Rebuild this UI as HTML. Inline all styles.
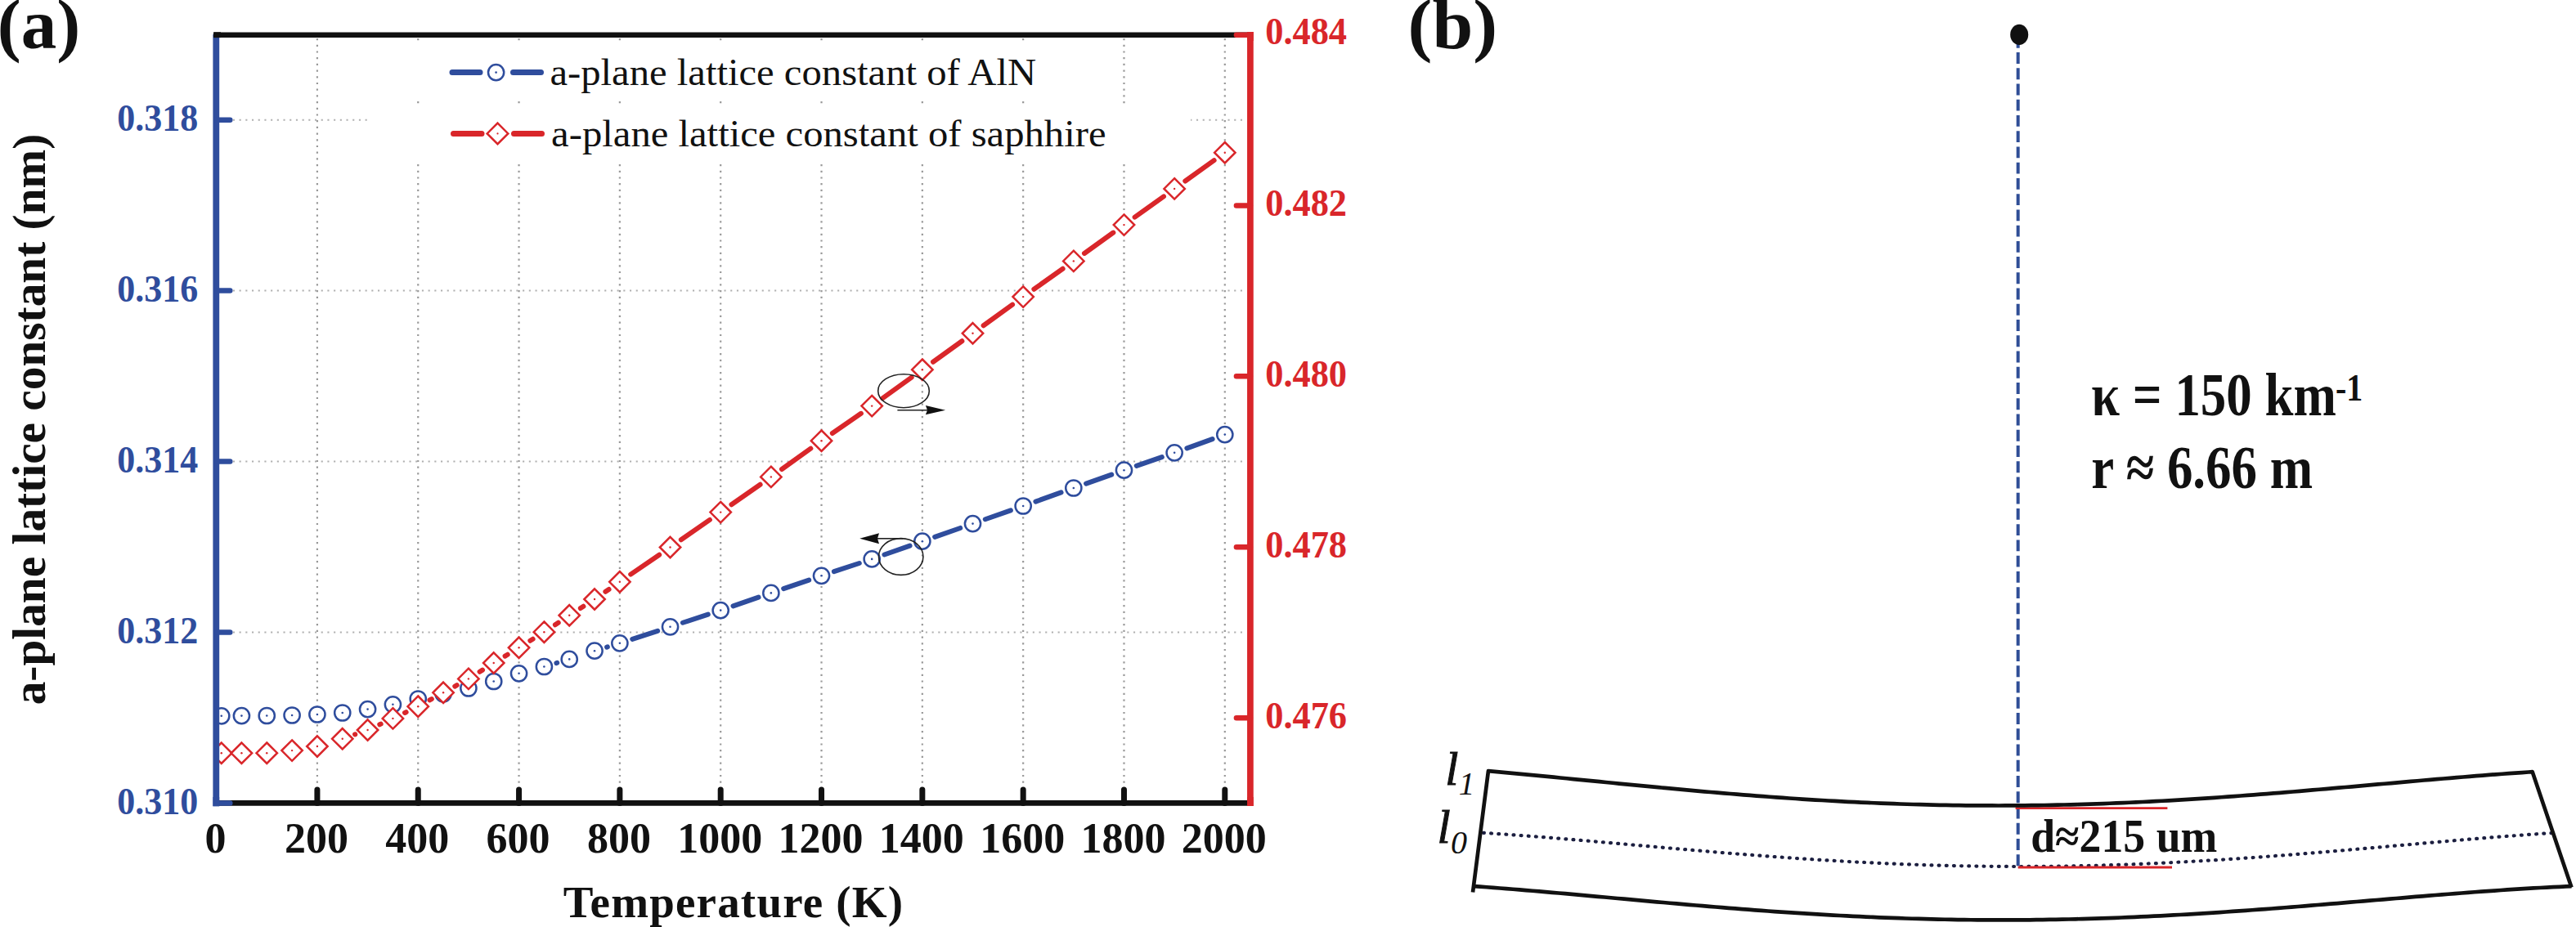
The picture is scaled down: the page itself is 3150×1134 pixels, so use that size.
<!DOCTYPE html>
<html><head><meta charset="utf-8"><title>Figure</title>
<style>html,body{margin:0;padding:0;background:#fff;width:3150px;height:1134px;overflow:hidden}
svg{display:block}
text{font-family:'Liberation Serif', serif}</style></head>
<body><svg width="3150" height="1134" viewBox="0 0 3150 1134">
<rect width="3150" height="1134" fill="#fff"/>
<path d="M387.92 47V978M511.24 47V978M634.56 47V978M757.88 47V978M881.2 47V978M1004.52 47V978M1127.84 47V978M1251.16 47V978M1374.48 47V978M1497.8 47V978" stroke="#999" stroke-width="2.2" stroke-dasharray="2.2 5.5" fill="none"/>
<path d="M269.5 773.4H1524M269.5 564.5H1524M269.5 355.6H1524M269.5 146.7H1524" stroke="#b0b0b0" stroke-width="2" stroke-dasharray="2.1 5.6" fill="none"/>
<rect x="449" y="52" width="850" height="67" fill="#fff"/>
<rect x="449" y="130" width="1007" height="66" fill="#fff"/>
<path d="M553 88.6H587M627.5 88.6H661.5" stroke="#2f4d9d" stroke-width="7" stroke-linecap="round"/>
<circle cx="606.6" cy="88.6" r="9.6" fill="#fff" stroke="#2f4d9d" stroke-width="2.5"/>
<circle cx="606.6" cy="88.6" r="1.3" fill="#2f4d9d"/>
<path d="M554.5 163.4H589M628.5 163.4H662.5" stroke="#d9262a" stroke-width="7" stroke-linecap="round"/>
<path d="M608.5 150.6L621.3 163.4L608.5 176.2L595.7 163.4Z" fill="#fff" stroke="#d9262a" stroke-width="2.5"/>
<circle cx="608.5" cy="163.4" r="1.1" fill="#d9262a"/>
<text transform="translate(672.4 104) scale(1.047 1)" font-size="46.5" fill="#111">a-plane lattice constant of AlN</text>
<text transform="translate(674.1 178.8) scale(1.047 1)" font-size="46.5" fill="#111">a-plane lattice constant of saphhire</text>
<defs><clipPath id="pc"><rect x="264.3" y="42.7" width="1264.6" height="939.7"/></clipPath></defs>
<g clip-path="url(#pc)">
<path d="M680.42 811.06L681.19 810.84M742.08 791.62L742.85 791.38M773.29 781.8L804.13 771.8M834.93 761.76L865.81 751.64M896.52 741.33L927.54 730.67M958.19 720.15L989.19 709.55M1019.9 699.21L1050.8 688.99M1081.46 678.52L1112.56 667.58M1143.13 656.84L1174.21 645.96M1204.79 635.24L1235.87 624.36M1266.42 613.56L1297.56 602.44M1328.09 591.6L1359.21 580.6M1389.78 569.89L1420.84 559.11M1451.38 548.31L1482.56 537.09" stroke="#2f4d9d" stroke-width="6" stroke-linecap="round" fill="none"/>
<circle cx="270.77" cy="875.8" r="9.6" fill="#fff" stroke="#2f4d9d" stroke-width="2.5"/>
<circle cx="270.77" cy="875.8" r="1.3" fill="#2f4d9d"/>
<circle cx="295.43" cy="875.6" r="9.6" fill="#fff" stroke="#2f4d9d" stroke-width="2.5"/>
<circle cx="295.43" cy="875.6" r="1.3" fill="#2f4d9d"/>
<circle cx="326.26" cy="875.5" r="9.6" fill="#fff" stroke="#2f4d9d" stroke-width="2.5"/>
<circle cx="326.26" cy="875.5" r="1.3" fill="#2f4d9d"/>
<circle cx="357.09" cy="875" r="9.6" fill="#fff" stroke="#2f4d9d" stroke-width="2.5"/>
<circle cx="357.09" cy="875" r="1.3" fill="#2f4d9d"/>
<circle cx="387.92" cy="874" r="9.6" fill="#fff" stroke="#2f4d9d" stroke-width="2.5"/>
<circle cx="387.92" cy="874" r="1.3" fill="#2f4d9d"/>
<circle cx="418.75" cy="872" r="9.6" fill="#fff" stroke="#2f4d9d" stroke-width="2.5"/>
<circle cx="418.75" cy="872" r="1.3" fill="#2f4d9d"/>
<circle cx="449.58" cy="867.6" r="9.6" fill="#fff" stroke="#2f4d9d" stroke-width="2.5"/>
<circle cx="449.58" cy="867.6" r="1.3" fill="#2f4d9d"/>
<circle cx="480.41" cy="861.8" r="9.6" fill="#fff" stroke="#2f4d9d" stroke-width="2.5"/>
<circle cx="480.41" cy="861.8" r="1.3" fill="#2f4d9d"/>
<circle cx="511.24" cy="855" r="9.6" fill="#fff" stroke="#2f4d9d" stroke-width="2.5"/>
<circle cx="511.24" cy="855" r="1.3" fill="#2f4d9d"/>
<circle cx="542.07" cy="848.8" r="9.6" fill="#fff" stroke="#2f4d9d" stroke-width="2.5"/>
<circle cx="542.07" cy="848.8" r="1.3" fill="#2f4d9d"/>
<circle cx="572.9" cy="842" r="9.6" fill="#fff" stroke="#2f4d9d" stroke-width="2.5"/>
<circle cx="572.9" cy="842" r="1.3" fill="#2f4d9d"/>
<circle cx="603.73" cy="833.5" r="9.6" fill="#fff" stroke="#2f4d9d" stroke-width="2.5"/>
<circle cx="603.73" cy="833.5" r="1.3" fill="#2f4d9d"/>
<circle cx="634.56" cy="823.8" r="9.6" fill="#fff" stroke="#2f4d9d" stroke-width="2.5"/>
<circle cx="634.56" cy="823.8" r="1.3" fill="#2f4d9d"/>
<circle cx="665.39" cy="815.5" r="9.6" fill="#fff" stroke="#2f4d9d" stroke-width="2.5"/>
<circle cx="665.39" cy="815.5" r="1.3" fill="#2f4d9d"/>
<circle cx="696.22" cy="806.4" r="9.6" fill="#fff" stroke="#2f4d9d" stroke-width="2.5"/>
<circle cx="696.22" cy="806.4" r="1.3" fill="#2f4d9d"/>
<circle cx="727.05" cy="796.2" r="9.6" fill="#fff" stroke="#2f4d9d" stroke-width="2.5"/>
<circle cx="727.05" cy="796.2" r="1.3" fill="#2f4d9d"/>
<circle cx="757.88" cy="786.8" r="9.6" fill="#fff" stroke="#2f4d9d" stroke-width="2.5"/>
<circle cx="757.88" cy="786.8" r="1.3" fill="#2f4d9d"/>
<circle cx="819.54" cy="766.8" r="9.6" fill="#fff" stroke="#2f4d9d" stroke-width="2.5"/>
<circle cx="819.54" cy="766.8" r="1.3" fill="#2f4d9d"/>
<circle cx="881.2" cy="746.6" r="9.6" fill="#fff" stroke="#2f4d9d" stroke-width="2.5"/>
<circle cx="881.2" cy="746.6" r="1.3" fill="#2f4d9d"/>
<circle cx="942.86" cy="725.4" r="9.6" fill="#fff" stroke="#2f4d9d" stroke-width="2.5"/>
<circle cx="942.86" cy="725.4" r="1.3" fill="#2f4d9d"/>
<circle cx="1004.52" cy="704.3" r="9.6" fill="#fff" stroke="#2f4d9d" stroke-width="2.5"/>
<circle cx="1004.52" cy="704.3" r="1.3" fill="#2f4d9d"/>
<circle cx="1066.18" cy="683.9" r="9.6" fill="#fff" stroke="#2f4d9d" stroke-width="2.5"/>
<circle cx="1066.18" cy="683.9" r="1.3" fill="#2f4d9d"/>
<circle cx="1127.84" cy="662.2" r="9.6" fill="#fff" stroke="#2f4d9d" stroke-width="2.5"/>
<circle cx="1127.84" cy="662.2" r="1.3" fill="#2f4d9d"/>
<circle cx="1189.5" cy="640.6" r="9.6" fill="#fff" stroke="#2f4d9d" stroke-width="2.5"/>
<circle cx="1189.5" cy="640.6" r="1.3" fill="#2f4d9d"/>
<circle cx="1251.16" cy="619" r="9.6" fill="#fff" stroke="#2f4d9d" stroke-width="2.5"/>
<circle cx="1251.16" cy="619" r="1.3" fill="#2f4d9d"/>
<circle cx="1312.82" cy="597" r="9.6" fill="#fff" stroke="#2f4d9d" stroke-width="2.5"/>
<circle cx="1312.82" cy="597" r="1.3" fill="#2f4d9d"/>
<circle cx="1374.48" cy="575.2" r="9.6" fill="#fff" stroke="#2f4d9d" stroke-width="2.5"/>
<circle cx="1374.48" cy="575.2" r="1.3" fill="#2f4d9d"/>
<circle cx="1436.14" cy="553.8" r="9.6" fill="#fff" stroke="#2f4d9d" stroke-width="2.5"/>
<circle cx="1436.14" cy="553.8" r="1.3" fill="#2f4d9d"/>
<circle cx="1497.8" cy="531.6" r="9.6" fill="#fff" stroke="#2f4d9d" stroke-width="2.5"/>
<circle cx="1497.8" cy="531.6" r="1.3" fill="#2f4d9d"/>
<path d="M434.04 898.44L434.29 898.36M464.31 886.26L465.68 885.64M495.03 871.93L496.62 871.17M525.45 856.41L527.86 855.09M556.28 839.51L558.69 838.19M586.61 821.77L590.02 819.63M617.58 802.6L620.71 800.7M648.33 783.77L651.62 781.73M678.9 764.26L682.71 761.74M709.85 744.05L713.42 741.75M740.4 723.82L744.53 720.98M771.24 702.64L806.18 678.66M832.84 660.25L867.9 635.85M894.47 617.3L929.59 592.7M956.03 573.96L991.35 548.64M1017.85 529.99L1052.85 505.81M1079.33 487.13L1114.69 461.67M1140.99 442.73L1176.35 417.27M1202.62 398.29L1238.04 372.61M1264.38 353.73L1299.6 328.77M1325.98 309.95L1361.32 284.55M1387.65 265.66L1422.97 240.34M1449.31 221.46L1484.63 196.14" stroke="#d9262a" stroke-width="6" stroke-linecap="round" fill="none"/>
<path d="M270.77 908.6L283.47 921.3L270.77 934L258.07 921.3Z" fill="#fff" stroke="#d9262a" stroke-width="2.5" stroke-linejoin="miter"/>
<circle cx="270.77" cy="921.3" r="1.2" fill="#d9262a"/>
<path d="M295.43 908.6L308.13 921.3L295.43 934L282.73 921.3Z" fill="#fff" stroke="#d9262a" stroke-width="2.5" stroke-linejoin="miter"/>
<circle cx="295.43" cy="921.3" r="1.2" fill="#d9262a"/>
<path d="M326.26 908.5L338.96 921.2L326.26 933.9L313.56 921.2Z" fill="#fff" stroke="#d9262a" stroke-width="2.5" stroke-linejoin="miter"/>
<circle cx="326.26" cy="921.2" r="1.2" fill="#d9262a"/>
<path d="M357.09 905.4L369.79 918.1L357.09 930.8L344.39 918.1Z" fill="#fff" stroke="#d9262a" stroke-width="2.5" stroke-linejoin="miter"/>
<circle cx="357.09" cy="918.1" r="1.2" fill="#d9262a"/>
<path d="M387.92 900.3L400.62 913L387.92 925.7L375.22 913Z" fill="#fff" stroke="#d9262a" stroke-width="2.5" stroke-linejoin="miter"/>
<circle cx="387.92" cy="913" r="1.2" fill="#d9262a"/>
<path d="M418.75 891.1L431.45 903.8L418.75 916.5L406.05 903.8Z" fill="#fff" stroke="#d9262a" stroke-width="2.5" stroke-linejoin="miter"/>
<circle cx="418.75" cy="903.8" r="1.2" fill="#d9262a"/>
<path d="M449.58 880.3L462.28 893L449.58 905.7L436.88 893Z" fill="#fff" stroke="#d9262a" stroke-width="2.5" stroke-linejoin="miter"/>
<circle cx="449.58" cy="893" r="1.2" fill="#d9262a"/>
<path d="M480.41 866.2L493.11 878.9L480.41 891.6L467.71 878.9Z" fill="#fff" stroke="#d9262a" stroke-width="2.5" stroke-linejoin="miter"/>
<circle cx="480.41" cy="878.9" r="1.2" fill="#d9262a"/>
<path d="M511.24 851.5L523.94 864.2L511.24 876.9L498.54 864.2Z" fill="#fff" stroke="#d9262a" stroke-width="2.5" stroke-linejoin="miter"/>
<circle cx="511.24" cy="864.2" r="1.2" fill="#d9262a"/>
<path d="M542.07 834.6L554.77 847.3L542.07 860L529.37 847.3Z" fill="#fff" stroke="#d9262a" stroke-width="2.5" stroke-linejoin="miter"/>
<circle cx="542.07" cy="847.3" r="1.2" fill="#d9262a"/>
<path d="M572.9 817.7L585.6 830.4L572.9 843.1L560.2 830.4Z" fill="#fff" stroke="#d9262a" stroke-width="2.5" stroke-linejoin="miter"/>
<circle cx="572.9" cy="830.4" r="1.2" fill="#d9262a"/>
<path d="M603.73 798.3L616.43 811L603.73 823.7L591.03 811Z" fill="#fff" stroke="#d9262a" stroke-width="2.5" stroke-linejoin="miter"/>
<circle cx="603.73" cy="811" r="1.2" fill="#d9262a"/>
<path d="M634.56 779.6L647.26 792.3L634.56 805L621.86 792.3Z" fill="#fff" stroke="#d9262a" stroke-width="2.5" stroke-linejoin="miter"/>
<circle cx="634.56" cy="792.3" r="1.2" fill="#d9262a"/>
<path d="M665.39 760.5L678.09 773.2L665.39 785.9L652.69 773.2Z" fill="#fff" stroke="#d9262a" stroke-width="2.5" stroke-linejoin="miter"/>
<circle cx="665.39" cy="773.2" r="1.2" fill="#d9262a"/>
<path d="M696.22 740.1L708.92 752.8L696.22 765.5L683.52 752.8Z" fill="#fff" stroke="#d9262a" stroke-width="2.5" stroke-linejoin="miter"/>
<circle cx="696.22" cy="752.8" r="1.2" fill="#d9262a"/>
<path d="M727.05 720.3L739.75 733L727.05 745.7L714.35 733Z" fill="#fff" stroke="#d9262a" stroke-width="2.5" stroke-linejoin="miter"/>
<circle cx="727.05" cy="733" r="1.2" fill="#d9262a"/>
<path d="M757.88 699.1L770.58 711.8L757.88 724.5L745.18 711.8Z" fill="#fff" stroke="#d9262a" stroke-width="2.5" stroke-linejoin="miter"/>
<circle cx="757.88" cy="711.8" r="1.2" fill="#d9262a"/>
<path d="M819.54 656.8L832.24 669.5L819.54 682.2L806.84 669.5Z" fill="#fff" stroke="#d9262a" stroke-width="2.5" stroke-linejoin="miter"/>
<circle cx="819.54" cy="669.5" r="1.2" fill="#d9262a"/>
<path d="M881.2 613.9L893.9 626.6L881.2 639.3L868.5 626.6Z" fill="#fff" stroke="#d9262a" stroke-width="2.5" stroke-linejoin="miter"/>
<circle cx="881.2" cy="626.6" r="1.2" fill="#d9262a"/>
<path d="M942.86 570.7L955.56 583.4L942.86 596.1L930.16 583.4Z" fill="#fff" stroke="#d9262a" stroke-width="2.5" stroke-linejoin="miter"/>
<circle cx="942.86" cy="583.4" r="1.2" fill="#d9262a"/>
<path d="M1004.52 526.5L1017.22 539.2L1004.52 551.9L991.82 539.2Z" fill="#fff" stroke="#d9262a" stroke-width="2.5" stroke-linejoin="miter"/>
<circle cx="1004.52" cy="539.2" r="1.2" fill="#d9262a"/>
<path d="M1066.18 483.9L1078.88 496.6L1066.18 509.3L1053.48 496.6Z" fill="#fff" stroke="#d9262a" stroke-width="2.5" stroke-linejoin="miter"/>
<circle cx="1066.18" cy="496.6" r="1.2" fill="#d9262a"/>
<path d="M1127.84 439.5L1140.54 452.2L1127.84 464.9L1115.14 452.2Z" fill="#fff" stroke="#d9262a" stroke-width="2.5" stroke-linejoin="miter"/>
<circle cx="1127.84" cy="452.2" r="1.2" fill="#d9262a"/>
<path d="M1189.5 395.1L1202.2 407.8L1189.5 420.5L1176.8 407.8Z" fill="#fff" stroke="#d9262a" stroke-width="2.5" stroke-linejoin="miter"/>
<circle cx="1189.5" cy="407.8" r="1.2" fill="#d9262a"/>
<path d="M1251.16 350.4L1263.86 363.1L1251.16 375.8L1238.46 363.1Z" fill="#fff" stroke="#d9262a" stroke-width="2.5" stroke-linejoin="miter"/>
<circle cx="1251.16" cy="363.1" r="1.2" fill="#d9262a"/>
<path d="M1312.82 306.7L1325.52 319.4L1312.82 332.1L1300.12 319.4Z" fill="#fff" stroke="#d9262a" stroke-width="2.5" stroke-linejoin="miter"/>
<circle cx="1312.82" cy="319.4" r="1.2" fill="#d9262a"/>
<path d="M1374.48 262.4L1387.18 275.1L1374.48 287.8L1361.78 275.1Z" fill="#fff" stroke="#d9262a" stroke-width="2.5" stroke-linejoin="miter"/>
<circle cx="1374.48" cy="275.1" r="1.2" fill="#d9262a"/>
<path d="M1436.14 218.2L1448.84 230.9L1436.14 243.6L1423.44 230.9Z" fill="#fff" stroke="#d9262a" stroke-width="2.5" stroke-linejoin="miter"/>
<circle cx="1436.14" cy="230.9" r="1.2" fill="#d9262a"/>
<path d="M1497.8 174L1510.5 186.7L1497.8 199.4L1485.1 186.7Z" fill="#fff" stroke="#d9262a" stroke-width="2.5" stroke-linejoin="miter"/>
<circle cx="1497.8" cy="186.7" r="1.2" fill="#d9262a"/>
</g>
<ellipse cx="1101.7" cy="681" rx="27.2" ry="22.4" fill="none" stroke="#222" stroke-width="1.6"/>
<path d="M1104 658.8H1072" stroke="#222" stroke-width="1.6"/>
<path d="M1051.2 658.8L1075 652.3L1073 658.8L1075 665.3Z" fill="#111"/>
<ellipse cx="1105" cy="478.2" rx="31.3" ry="20.5" fill="none" stroke="#222" stroke-width="1.6"/>
<path d="M1097.4 501.7H1135" stroke="#222" stroke-width="1.6"/>
<path d="M1156.1 501.7L1131.9 496.1L1134 501.7L1131.9 507.3Z" fill="#111"/>
<path d="M264.3 42V986.2" stroke="#2f4d9d" stroke-width="7.8"/>
<path d="M1528.9 39V986" stroke="#d9262a" stroke-width="7.7"/>
<path d="M261 42.7H1526" stroke="#111" stroke-width="6.6"/>
<path d="M261 982.4H1526" stroke="#111" stroke-width="6.8"/>
<path d="M387.92 982.4V966M511.24 982.4V966M634.56 982.4V966M757.88 982.4V966M881.2 982.4V966M1004.52 982.4V966M1127.84 982.4V966M1251.16 982.4V966M1374.48 982.4V966M1497.8 982.4V966" stroke="#111" stroke-width="7" stroke-linecap="round"/>
<path d="M264.3 982.4H281.3M264.3 773.4H281.3M264.3 564.5H281.3M264.3 355.6H281.3M264.3 146.7H281.3" stroke="#2f4d9d" stroke-width="6.5" stroke-linecap="round"/>
<path d="M1528.9 878.3H1511.9M1528.9 669.2H1511.9M1528.9 460.3H1511.9M1528.9 251.6H1511.9M1528.9 42.7H1511.9" stroke="#d9262a" stroke-width="6.5" stroke-linecap="round"/>
<path d="M264.3 975V986.2" stroke="#2f4d9d" stroke-width="7.8"/>
<path d="M1528.9 39V50M1528.9 975V986" stroke="#d9262a" stroke-width="7.7"/>
<path d="M261.5 42.7H270" stroke="#111" stroke-width="6.8"/>
<text transform="translate(143.2 995.7) scale(0.957 1)" font-size="46" font-weight="bold" fill="#2f4d9d">0.310</text>
<text transform="translate(143.2 786.7) scale(0.957 1)" font-size="46" font-weight="bold" fill="#2f4d9d">0.312</text>
<text transform="translate(143.2 577.8) scale(0.957 1)" font-size="46" font-weight="bold" fill="#2f4d9d">0.314</text>
<text transform="translate(143.2 368.9) scale(0.957 1)" font-size="46" font-weight="bold" fill="#2f4d9d">0.316</text>
<text transform="translate(143.2 160) scale(0.957 1)" font-size="46" font-weight="bold" fill="#2f4d9d">0.318</text>
<text transform="translate(1547.2 891.1) scale(0.965 1)" font-size="46" font-weight="bold" fill="#d9262a">0.476</text>
<text transform="translate(1547.2 682) scale(0.965 1)" font-size="46" font-weight="bold" fill="#d9262a">0.478</text>
<text transform="translate(1547.2 473.1) scale(0.965 1)" font-size="46" font-weight="bold" fill="#d9262a">0.480</text>
<text transform="translate(1547.2 264.4) scale(0.965 1)" font-size="46" font-weight="bold" fill="#d9262a">0.482</text>
<text transform="translate(1547.2 53.5) scale(0.965 1)" font-size="46" font-weight="bold" fill="#d9262a">0.484</text>
<text x="263.6" y="1042.5" font-size="52" font-weight="bold" fill="#111" text-anchor="middle">0</text>
<text x="386.92" y="1042.5" font-size="52" font-weight="bold" fill="#111" text-anchor="middle">200</text>
<text x="510.24" y="1042.5" font-size="52" font-weight="bold" fill="#111" text-anchor="middle">400</text>
<text x="633.56" y="1042.5" font-size="52" font-weight="bold" fill="#111" text-anchor="middle">600</text>
<text x="756.88" y="1042.5" font-size="52" font-weight="bold" fill="#111" text-anchor="middle">800</text>
<text x="880.2" y="1042.5" font-size="52" font-weight="bold" fill="#111" text-anchor="middle">1000</text>
<text x="1003.52" y="1042.5" font-size="52" font-weight="bold" fill="#111" text-anchor="middle">1200</text>
<text x="1126.84" y="1042.5" font-size="52" font-weight="bold" fill="#111" text-anchor="middle">1400</text>
<text x="1250.16" y="1042.5" font-size="52" font-weight="bold" fill="#111" text-anchor="middle">1600</text>
<text x="1373.48" y="1042.5" font-size="52" font-weight="bold" fill="#111" text-anchor="middle">1800</text>
<text x="1496.8" y="1042.5" font-size="52" font-weight="bold" fill="#111" text-anchor="middle">2000</text>
<text x="688.7" y="1121.5" font-size="55" font-weight="bold" fill="#111" letter-spacing="1.2">Temperature (K)</text>
<text transform="translate(55 862.3) rotate(-90)" x="0" y="0" font-size="57.3" font-weight="bold" fill="#111">a-plane lattice constant (nm)</text>
<text x="-3.2" y="59" font-size="87" font-weight="bold" fill="#111">(a)</text>
<text transform="translate(1721.6 59) scale(1.03 1)" font-size="87" font-weight="bold" fill="#111">(b)</text>
<path d="M2467.7 44.76V1059.3" stroke="#2f4e96" stroke-width="4" stroke-dasharray="13.9 5.34"/>
<path d="M1814 1018.85L1822 1019.37L1830 1019.9L1838 1020.45L1846 1021.02L1854 1021.6L1862 1022.19L1870 1022.8L1878 1023.42L1886 1024.05L1894 1024.69L1902 1025.34L1910 1026L1918 1026.66L1926 1027.34L1934 1028.02L1942 1028.71L1950 1029.4L1958 1030.1L1966 1030.8L1974 1031.5L1982 1032.21L1990 1032.92L1998 1033.63L2006 1034.34L2014 1035.05L2022 1035.76L2030 1036.46L2038 1037.17L2046 1037.87L2054 1038.57L2062 1039.27L2070 1039.96L2078 1040.65L2086 1041.33L2094 1042.01L2102 1042.68L2110 1043.34L2118 1044L2126 1044.64L2134 1045.28L2142 1045.91L2150 1046.54L2158 1047.15L2166 1047.75L2174 1048.34L2182 1048.92L2190 1049.49L2198 1050.05L2206 1050.59L2214 1051.12L2222 1051.64L2230 1052.15L2238 1052.64L2246 1053.12L2254 1053.59L2262 1054.04L2270 1054.48L2278 1054.9L2286 1055.3L2294 1055.7L2302 1056.07L2310 1056.43L2318 1056.77L2326 1057.1L2334 1057.41L2342 1057.7L2350 1057.98L2358 1058.24L2366 1058.48L2374 1058.7L2382 1058.91L2390 1059.1L2398 1059.27L2406 1059.42L2414 1059.56L2422 1059.67L2430 1059.77L2438 1059.85L2446 1059.92L2454 1059.96L2462 1059.99L2470 1060L2478 1059.98L2486 1059.96L2494 1059.91L2502 1059.84L2510 1059.76L2518 1059.66L2526 1059.54L2534 1059.4L2542 1059.24L2550 1059.07L2558 1058.88L2566 1058.67L2574 1058.44L2582 1058.19L2590 1057.93L2598 1057.65L2606 1057.36L2614 1057.04L2622 1056.71L2630 1056.37L2638 1056.01L2646 1055.63L2654 1055.24L2662 1054.83L2670 1054.4L2678 1053.96L2686 1053.51L2694 1053.04L2702 1052.56L2710 1052.06L2718 1051.55L2726 1051.03L2734 1050.49L2742 1049.95L2750 1049.39L2758 1048.81L2766 1048.23L2774 1047.64L2782 1047.03L2790 1046.42L2798 1045.79L2806 1045.16L2814 1044.52L2822 1043.87L2830 1043.21L2838 1042.54L2846 1041.87L2854 1041.19L2862 1040.5L2870 1039.81L2878 1039.12L2886 1038.42L2894 1037.72L2902 1037.01L2910 1036.3L2918 1035.59L2926 1034.88L2934 1034.17L2942 1033.45L2950 1032.74L2958 1032.03L2966 1031.32L2974 1030.62L2982 1029.91L2990 1029.21L2998 1028.52L3006 1027.83L3014 1027.14L3022 1026.47L3030 1025.8L3038 1025.13L3046 1024.48L3054 1023.84L3062 1023.21L3070 1022.59L3078 1021.98L3086 1021.38L3094 1020.8L3102 1020.23L3110 1019.68L3118 1019.15L3121 1018.95" fill="none" stroke="#1c1f40" stroke-width="4.2" stroke-linecap="round" stroke-dasharray="0.9 8.25"/>
<path d="M2464.6 988.7H2650.4M2467.7 1061H2656" stroke="#d9262a" stroke-width="2.8"/>
<path d="M1801 1091.5L1819.9 943.6L1819.9 943.15L1827.9 943.87L1835.9 944.6L1843.9 945.33L1851.9 946.08L1859.9 946.83L1867.9 947.59L1875.9 948.36L1883.9 949.13L1891.9 949.91L1899.9 950.69L1907.9 951.47L1915.9 952.26L1923.9 953.04L1931.9 953.83L1939.9 954.62L1947.9 955.41L1955.9 956.2L1963.9 956.99L1971.9 957.78L1979.9 958.56L1987.9 959.34L1995.9 960.12L2003.9 960.89L2011.9 961.66L2019.9 962.43L2027.9 963.19L2035.9 963.94L2043.9 964.68L2051.9 965.42L2059.9 966.15L2067.9 966.88L2075.9 967.59L2083.9 968.3L2091.9 968.99L2099.9 969.68L2107.9 970.36L2115.9 971.02L2123.9 971.68L2131.9 972.32L2139.9 972.95L2147.9 973.57L2155.9 974.18L2163.9 974.77L2171.9 975.35L2179.9 975.92L2187.9 976.47L2195.9 977.01L2203.9 977.53L2211.9 978.04L2219.9 978.54L2227.9 979.02L2235.9 979.48L2243.9 979.93L2251.9 980.36L2259.9 980.78L2267.9 981.17L2275.9 981.56L2283.9 981.92L2291.9 982.27L2299.9 982.6L2307.9 982.92L2315.9 983.21L2323.9 983.49L2331.9 983.75L2339.9 983.99L2347.9 984.22L2355.9 984.42L2363.9 984.61L2371.9 984.78L2379.9 984.93L2387.9 985.07L2395.9 985.18L2403.9 985.28L2411.9 985.35L2419.9 985.41L2427.9 985.45L2435.9 985.47L2443.9 985.48L2451.9 985.46L2459.9 985.43L2467.9 985.37L2475.9 985.3L2483.9 985.21L2491.9 985.1L2499.9 984.98L2507.9 984.83L2515.9 984.67L2523.9 984.49L2531.9 984.29L2539.9 984.07L2547.9 983.84L2555.9 983.59L2563.9 983.32L2571.9 983.04L2579.9 982.73L2587.9 982.41L2595.9 982.08L2603.9 981.73L2611.9 981.36L2619.9 980.98L2627.9 980.58L2635.9 980.16L2643.9 979.73L2651.9 979.29L2659.9 978.83L2667.9 978.36L2675.9 977.87L2683.9 977.37L2691.9 976.85L2699.9 976.33L2707.9 975.79L2715.9 975.24L2723.9 974.67L2731.9 974.1L2739.9 973.51L2747.9 972.92L2755.9 972.31L2763.9 971.69L2771.9 971.07L2779.9 970.43L2787.9 969.79L2795.9 969.14L2803.9 968.48L2811.9 967.81L2819.9 967.14L2827.9 966.46L2835.9 965.78L2843.9 965.09L2851.9 964.4L2859.9 963.7L2867.9 963L2875.9 962.29L2883.9 961.58L2891.9 960.88L2899.9 960.17L2907.9 959.46L2915.9 958.75L2923.9 958.04L2931.9 957.33L2939.9 956.62L2947.9 955.92L2955.9 955.22L2963.9 954.52L2971.9 953.83L2979.9 953.15L2987.9 952.47L2995.9 951.79L3003.9 951.13L3011.9 950.47L3019.9 949.82L3027.9 949.18L3035.9 948.55L3043.9 947.94L3051.9 947.33L3059.9 946.74L3067.9 946.16L3075.9 945.6L3083.9 945.05L3091.9 944.51L3096.7 944.2 L3144.5 1085.6" fill="none" stroke="#111" stroke-width="4.7" stroke-linejoin="round"/>
<path d="M1802 1084.1L1810 1084.68L1818 1085.27L1826 1085.87L1834 1086.49L1842 1087.11L1850 1087.76L1858 1088.41L1866 1089.07L1874 1089.74L1882 1090.42L1890 1091.11L1898 1091.8L1906 1092.5L1914 1093.21L1922 1093.92L1930 1094.63L1938 1095.35L1946 1096.08L1954 1096.8L1962 1097.53L1970 1098.25L1978 1098.98L1986 1099.71L1994 1100.43L2002 1101.16L2010 1101.88L2018 1102.6L2026 1103.31L2034 1104.02L2042 1104.73L2050 1105.43L2058 1106.13L2066 1106.82L2074 1107.5L2082 1108.18L2090 1108.85L2098 1109.51L2106 1110.17L2114 1110.81L2122 1111.45L2130 1112.07L2138 1112.69L2146 1113.29L2154 1113.88L2162 1114.47L2170 1115.04L2178 1115.59L2186 1116.14L2194 1116.67L2202 1117.19L2210 1117.7L2218 1118.19L2226 1118.67L2234 1119.13L2242 1119.58L2250 1120.01L2258 1120.43L2266 1120.84L2274 1121.22L2282 1121.59L2290 1121.95L2298 1122.29L2306 1122.61L2314 1122.92L2322 1123.21L2330 1123.48L2338 1123.73L2346 1123.97L2354 1124.19L2362 1124.39L2370 1124.58L2378 1124.75L2386 1124.9L2394 1125.03L2402 1125.14L2410 1125.24L2418 1125.31L2426 1125.37L2434 1125.41L2442 1125.43L2450 1125.44L2458 1125.43L2466 1125.39L2474 1125.34L2482 1125.28L2490 1125.19L2498 1125.09L2506 1124.96L2514 1124.82L2522 1124.67L2530 1124.49L2538 1124.3L2546 1124.09L2554 1123.86L2562 1123.62L2570 1123.36L2578 1123.08L2586 1122.79L2594 1122.48L2602 1122.15L2610 1121.81L2618 1121.46L2626 1121.08L2634 1120.69L2642 1120.29L2650 1119.87L2658 1119.44L2666 1119L2674 1118.54L2682 1118.06L2690 1117.58L2698 1117.08L2706 1116.57L2714 1116.04L2722 1115.51L2730 1114.96L2738 1114.41L2746 1113.84L2754 1113.26L2762 1112.67L2770 1112.08L2778 1111.47L2786 1110.86L2794 1110.24L2802 1109.61L2810 1108.97L2818 1108.33L2826 1107.68L2834 1107.03L2842 1106.37L2850 1105.7L2858 1105.04L2866 1104.37L2874 1103.7L2882 1103.02L2890 1102.34L2898 1101.67L2906 1100.99L2914 1100.31L2922 1099.64L2930 1098.97L2938 1098.29L2946 1097.63L2954 1096.96L2962 1096.3L2970 1095.65L2978 1095L2986 1094.35L2994 1093.72L3002 1093.09L3010 1092.47L3018 1091.86L3026 1091.26L3034 1090.68L3042 1090.1L3050 1089.54L3058 1088.99L3066 1088.45L3074 1087.93L3082 1087.43L3090 1086.94L3098 1086.47L3106 1086.02L3114 1085.59L3122 1085.18L3130 1084.8L3138 1084.43L3144.5 1084.15" fill="none" stroke="#111" stroke-width="4.7" stroke-linejoin="round"/>
<ellipse cx="2469.2" cy="42.4" rx="11" ry="12.6" fill="#111"/>
<text transform="translate(2557.2 507.8) scale(0.85 1)" font-size="74" font-weight="bold" fill="#111">κ = 150 km</text>
<text transform="translate(2856 489.5) scale(0.85 1)" font-size="47" font-weight="bold" fill="#111">-1</text>
<text transform="translate(2557.2 597.3) scale(0.85 1)" font-size="74" font-weight="bold" fill="#111">r ≈ 6.66 m</text>
<text transform="translate(2483.2 1042.3) scale(0.96 1)" font-size="56" font-weight="bold" fill="#111">d≈215 um</text>
<text x="1767.3" y="960.4" font-size="58" font-style="italic" fill="#111" stroke="#111" stroke-width="1">l</text>
<text x="1783.7" y="972.3" font-size="39" font-style="italic" fill="#111">1</text>
<text x="1757.6" y="1030.5" font-size="58" font-style="italic" fill="#111" stroke="#111" stroke-width="1">l</text>
<text x="1774" y="1043.7" font-size="40" font-style="italic" fill="#111">0</text>
</svg></body></html>
